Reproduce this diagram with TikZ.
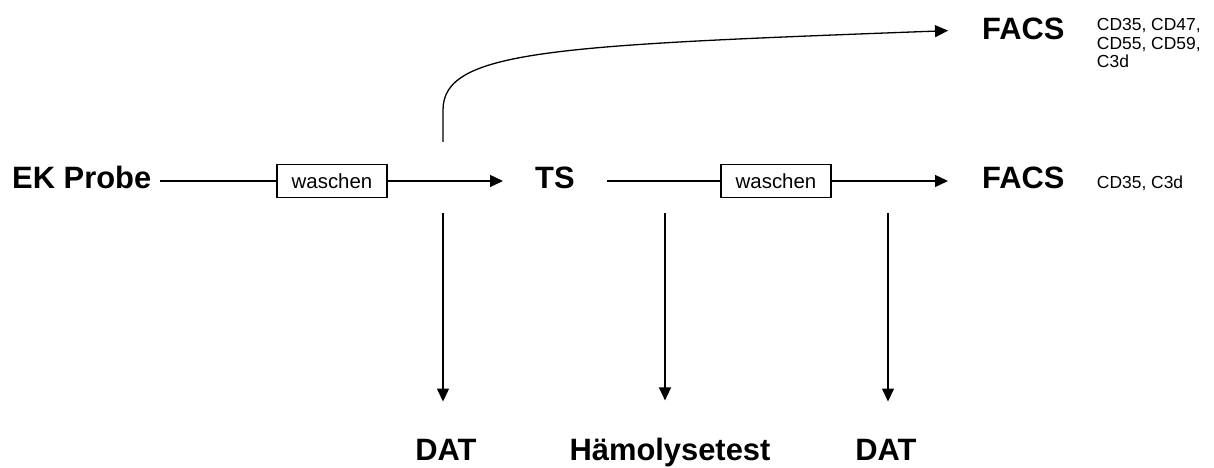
\documentclass[tikz,border=0pt]{standalone}
\usepackage{fontspec}
\setmainfont{Liberation Sans}
\usepackage{tikz}
\usetikzlibrary{arrows.meta, positioning}

\begin{document}
\begin{tikzpicture}[
  x=1bp, y=-1bp,
  lbl/.style={font=\fontsize{31}{36}\selectfont\bfseries, inner sep=0pt},
  wash/.style={draw, line width=1.2bp, minimum width=110bp, minimum height=33bp,
               inner sep=0pt, font=\fontsize{20.5}{24}\selectfont},
  marker/.style={font=\fontsize{17.5}{18.5}\selectfont, inner sep=0pt, align=left},
  link/.style={line width=1.3bp},
  flow/.style={link, -{Triangle[length=13bp,width=12bp]}},
]
  \useasboundingbox (0,0) rectangle (1214,468);

  \node[lbl, anchor=base west] (ek) at (12,189) {EK Probe};
  \node[wash] (w1) at (332,181) {waschen};
  \node[lbl, anchor=base west] (ts) at (535,189) {TS};
  \node[wash] (w2) at (776,181) {waschen};
  \node[lbl, anchor=base west] (facsB) at (982,189) {FACS};
  \node[marker, base right=32bp of facsB] (cdB) {CD35, C3d};

  \node[lbl, anchor=base west] (facsA) at (982,40) {FACS};
  \node[marker, anchor=north west] (cdA) at ([xshift=32bp]facsA.north east) {CD35, CD47,\\CD55, CD59,\\C3d};

  \node[lbl, anchor=base] (dat1) at (446,461) {DAT};
  \node[lbl, anchor=base] (hemo) at (670,461) {Hämolysetest};
  \node[lbl, anchor=base] (dat2) at (886,461) {DAT};

  \coordinate (split) at (443,142);
  \coordinate (d1) at (443,213);
  \coordinate (d2) at (665,213);
  \coordinate (d3) at (888,213);

  \draw[link, shorten <=9bp] (ek.east |- w1.west) -- (w1.west);
  \draw[flow, shorten >=32bp] (w1.east) -- (ts.west |- w1.east);
  \draw[link, shorten <=32bp] (ts.east |- w2.west) -- (w2.west);
  \draw[flow, shorten >=34bp] (w2.east) -- (facsB.west |- w2.east);

  \draw[flow, shorten >=34bp] (split) -- ++(0,-32) .. controls +(0,-60) and +(-428,16) .. (facsA.west);

  \draw[flow, shorten >=38bp] (d1) -- (d1 |- dat1.north);
  \draw[flow, shorten >=38bp] (d2) -- (d2 |- hemo.north);
  \draw[flow, shorten >=38bp] (d3) -- (d3 |- dat2.north);
\end{tikzpicture}
\end{document}
